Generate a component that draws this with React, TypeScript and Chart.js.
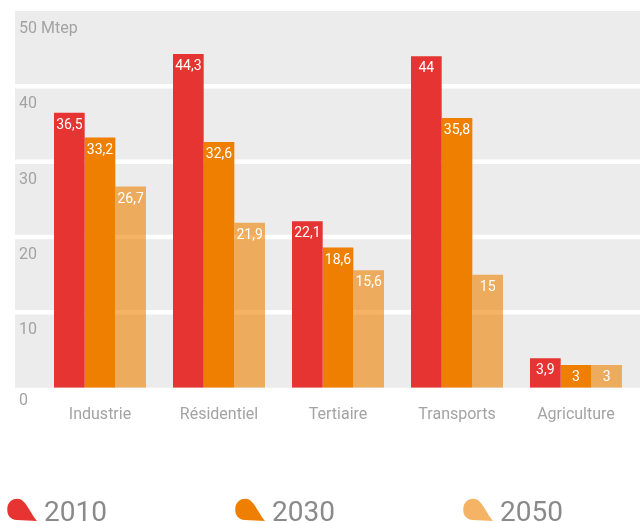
import React, { useEffect, useRef } from "react";
import { Chart, registerables } from "chart.js";

Chart.register(...registerables);

// ---- data ----
const categories = ["Industrie", "Résidentiel", "Tertiaire", "Transports", "Agriculture"];
const seriesNames = ["2010", "2030", "2050"];
const values2010 = [36.5, 44.3, 22.1, 44, 3.9];
const values2030 = [33.2, 32.6, 18.6, 35.8, 3];
const values2050 = [26.7, 21.9, 15.6, 15, 3];
const yMin = 0;
const yMax = 50;
const yStep = 10;
const yUnit = "Mtep";

// ---- styles ----
const seriesColors = ["#E53431", "#EF7F00", "rgba(239,128,0,0.6)"];
const FONT = "Roboto, 'Noto Sans', sans-serif";
const AXIS_TEXT = "#A3A3A3";
const LEGEND_TEXT = "#8A8A8A";
const BAND_BG = "#ECECEC";

const bandBackground = {
  id: "bandBackground",
  beforeDraw(chart: any) {
    const { ctx, chartArea, scales } = chart;
    const y = scales.y;
    const left = chartArea.left - 25.5;
    const right = chartArea.right + 4.5;
    ctx.save();
    ctx.fillStyle = BAND_BG;
    ctx.fillRect(left, chartArea.top, right - left, chartArea.bottom - chartArea.top);
    ctx.strokeStyle = "#FFFFFF";
    ctx.lineWidth = 4.5;
    y.ticks.forEach((t: any) => {
      if (t.value > y.min && t.value < y.max) {
        const py = y.getPixelForValue(t.value);
        ctx.beginPath();
        ctx.moveTo(left, py);
        ctx.lineTo(right, py);
        ctx.stroke();
      }
    });
    ctx.restore();
  },
};

const barLabels = {
  id: "barLabels",
  afterDatasetsDraw(chart: any) {
    const { ctx } = chart;
    ctx.save();
    ctx.font = `14px ${FONT}`;
    ctx.fillStyle = "#FFFFFF";
    ctx.textAlign = "center";
    ctx.textBaseline = "middle";
    chart.data.datasets.forEach((ds: any, i: number) => {
      const meta = chart.getDatasetMeta(i);
      meta.data.forEach((bar: any, j: number) => {
        const v = ds.data[j];
        ctx.fillText(String(v).replace(".", ","), bar.x, bar.y + 12.5);
      });
    });
    ctx.restore();
  },
};

function leafPath(ctx: CanvasRenderingContext2D, x: number, y: number) {
  ctx.beginPath();
  ctx.moveTo(x + 30, y + 23);
  ctx.bezierCurveTo(x + 24, y + 16, x + 20, y + 5, x + 14, y + 1.5);
  ctx.bezierCurveTo(x + 9, y - 1, x + 1, y + 2, x + 0.3, y + 10);
  ctx.bezierCurveTo(x - 0.3, y + 17, x + 3, y + 21.5, x + 10, y + 22);
  ctx.lineTo(x + 30, y + 23);
  ctx.closePath();
}

const leafLegend = {
  id: "leafLegend",
  afterDraw(chart: any) {
    const { ctx } = chart;
    const startX = 7;
    const step = 228;
    const baseline = chart.height - 2.5;
    ctx.save();
    chart.data.datasets.forEach((ds: any, i: number) => {
      const x = startX + i * step;
      ctx.fillStyle = ds.backgroundColor;
      leafPath(ctx, x, baseline - 22.5);
      ctx.fill();
      ctx.fillStyle = LEGEND_TEXT;
      ctx.font = `28px ${FONT}`;
      ctx.textAlign = "left";
      ctx.textBaseline = "alphabetic";
      ctx.fillText(ds.label, x + 37, baseline);
    });
    ctx.restore();
  },
};

export default function App() {
  const ref = useRef<HTMLCanvasElement | null>(null);

  useEffect(() => {
    document.body.style.margin = "0";
    document.body.style.overflow = "hidden";
    const canvas = ref.current;
    if (!canvas) return;
    const seriesValues = [values2010, values2030, values2050];
    const chart = new Chart(canvas, {
      type: "bar",
      data: {
        labels: categories,
        datasets: seriesNames.map((name, i) => ({
          label: name,
          data: seriesValues[i],
          backgroundColor: seriesColors[i],
          borderWidth: 0,
          barPercentage: 1,
          categoryPercentage: 0.773,
        })),
      },
      options: {
        responsive: false,
        animation: false,
        devicePixelRatio: 1,
        layout: { padding: { left: 0, right: 7.5, top: 11, bottom: 75.3 } },
        plugins: {
          legend: { display: false },
          tooltip: { enabled: false },
        },
        scales: {
          x: {
            grid: { display: false, drawTicks: false },
            border: { display: false },
            ticks: {
              autoSkip: false,
              maxRotation: 0,
              padding: 18,
              color: AXIS_TEXT,
              font: { family: FONT, size: 16 },
            },
            afterFit: (scale: any) => {
              scale.height = 60;
            },
          },
          y: {
            min: yMin,
            max: yMax,
            grid: { display: false, drawTicks: false },
            border: { display: false },
            ticks: {
              stepSize: yStep,
              mirror: true,
              padding: -21.5,
              crossAlign: "near",
              labelOffset: 18,
              color: AXIS_TEXT,
              font: (c: any) => ({
                family: FONT,
                size: 16,
                lineHeight: c.tick && c.tick.value === 0 ? "9.4px" : 1.2,
              }),
              callback: (value: any) => {
                if (value === yMax) return `${value} ${yUnit}`;
                if (value === yMin) return [String(value), ""];
                return String(value);
              },
            },
            afterFit: (scale: any) => {
              scale.width = 40.5;
            },
          },
        },
      },
      plugins: [bandBackground, barLabels, leafLegend],
    } as any);
    return () => chart.destroy();
  }, []);

  return (
    <div style={{ width: 643, height: 523 }}>
      <canvas ref={ref} width={643} height={523} style={{ display: "block" }} />
    </div>
  );
}
